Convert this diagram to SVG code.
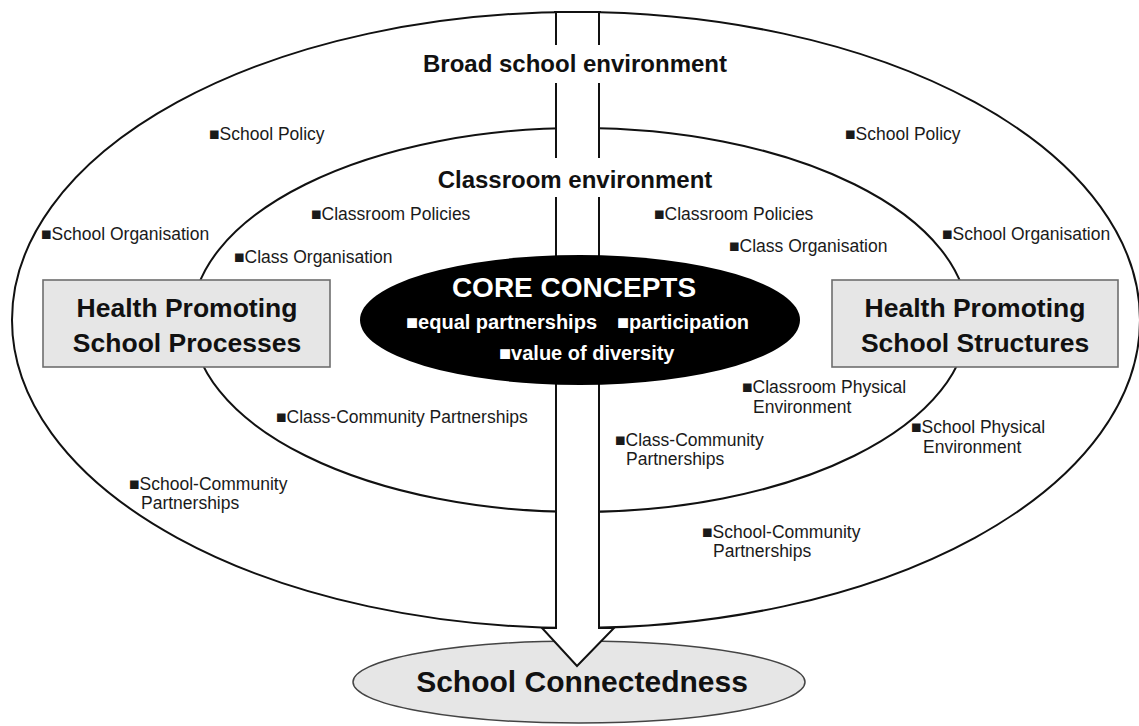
<svg xmlns="http://www.w3.org/2000/svg" width="1139" height="726" viewBox="0 0 1139 726">
  <style>
    .ring { fill: #ffffff; stroke: #111111; stroke-width: 2; }
    .box { fill: #e6e6e6; stroke: #6e6e6e; stroke-width: 1.6; }
    .title { font-family: "Liberation Sans", Arial, Helvetica, sans-serif; font-weight: bold; fill: #111111; text-anchor: middle; }
    .item { font-family: "Liberation Sans", Arial, Helvetica, sans-serif; font-size: 17.5px; fill: #1a1a1a; }
    .core { font-family: "Liberation Sans", Arial, Helvetica, sans-serif; font-weight: bold; fill: #ffffff; }
  </style>

  <rect width="1139" height="726" fill="#ffffff"/>

  <!-- outer ring: broad school environment -->
  <g id="broad-environment">
    <ellipse class="ring" cx="576" cy="320" rx="564" ry="308"/>
  </g>

  <!-- inner ring: classroom environment -->
  <g id="classroom-environment">
    <ellipse class="ring" cx="580" cy="320" rx="388" ry="192"/>
  </g>

  <!-- outcome -->
  <g id="school-connectedness">
    <ellipse cx="579" cy="682" rx="226" ry="41" fill="#e6e6e6" stroke="#444444" stroke-width="1.5"/>
    <text class="title" x="582" y="692" font-size="30">School Connectedness</text>
  </g>

  <!-- block arrow running down through both rings -->
  <g id="connectors">
    <path d="M556,12 L556,628 L542,628 L577,666 L614,628 L599,628 L599,12" fill="#ffffff" stroke="#111111" stroke-width="2" stroke-linejoin="miter"/>
    <!-- outer ring's top edge stays closed over the shaft -->
    <line x1="554" y1="12" x2="601" y2="12" stroke="#111111" stroke-width="2"/>
  </g>

  <!-- ring titles, set on white so they break the arrow shaft -->
  <g id="ring-titles">
    <rect x="549" y="45" width="57" height="38" fill="#ffffff"/>
    <rect x="549" y="158" width="57" height="39" fill="#ffffff"/>
    <text class="title" x="575" y="72" font-size="24">Broad school environment</text>
    <text class="title" x="575" y="188" font-size="24">Classroom environment</text>
  </g>

  <!-- core concepts -->
  <g id="core-concepts">
    <ellipse cx="580" cy="320" rx="220" ry="65" fill="#000000"/>
    <text class="core" x="574" y="297" font-size="28" text-anchor="middle">CORE CONCEPTS</text>
    <text class="core" x="406" y="329" font-size="20">■equal partnerships</text>
    <text class="core" x="617" y="329" font-size="20">■participation</text>
    <text class="core" x="499" y="360" font-size="20">■value of diversity</text>
  </g>

  <!-- side boxes -->
  <g id="processes">
    <rect class="box" x="43" y="280" width="287" height="87"/>
    <text class="title" x="187" y="317" font-size="26.5">Health Promoting</text>
    <text class="title" x="187" y="352" font-size="26.5">School Processes</text>
  </g>
  <g id="structures">
    <rect class="box" x="832" y="280" width="286" height="87"/>
    <text class="title" x="975" y="317" font-size="26.5">Health Promoting</text>
    <text class="title" x="975" y="352" font-size="26.5">School Structures</text>
  </g>

  <!-- left-hand items -->
  <g id="items-left">
    <text class="item" x="209" y="140">■School Policy</text>
    <text class="item" x="41" y="240">■School Organisation</text>
    <text class="item" x="311" y="220">■Classroom Policies</text>
    <text class="item" x="234" y="263">■Class Organisation</text>
    <text class="item" x="276" y="423">■Class-Community Partnerships</text>
    <text class="item" x="129" y="490">■School-Community</text>
    <text class="item" x="141" y="509">Partnerships</text>
  </g>

  <!-- right-hand items -->
  <g id="items-right">
    <text class="item" x="845" y="140">■School Policy</text>
    <text class="item" x="654" y="220">■Classroom Policies</text>
    <text class="item" x="729" y="252">■Class Organisation</text>
    <text class="item" x="942" y="240">■School Organisation</text>
    <text class="item" x="742" y="393">■Classroom Physical</text>
    <text class="item" x="753" y="413">Environment</text>
    <text class="item" x="615" y="446">■Class-Community</text>
    <text class="item" x="626" y="465">Partnerships</text>
    <text class="item" x="911" y="433">■School Physical</text>
    <text class="item" x="923" y="453">Environment</text>
    <text class="item" x="702" y="538">■School-Community</text>
    <text class="item" x="713" y="557">Partnerships</text>
  </g>
</svg>
